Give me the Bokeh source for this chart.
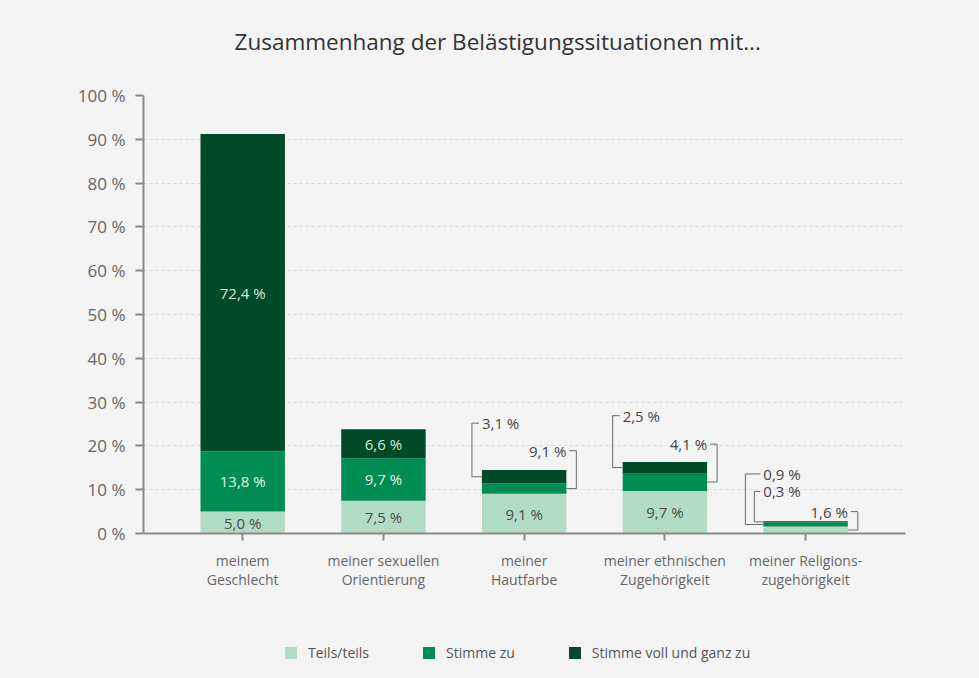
from bokeh.plotting import figure
from bokeh.layouts import column
from bokeh.models import (Legend, LegendItem, FixedTicker, Range1d,
                          ColumnDataSource, Title)
from bokeh.core.properties import value
from bokeh.embed import file_html
from bokeh.resources import INLINE

# ---------------- data ----------------
categories = ["meinem\nGeschlecht", "meiner sexuellen\nOrientierung",
              "meiner\nHautfarbe", "meiner ethnischen\nZugehörigkeit",
              "meiner Religions-\nzugehörigkeit"]
series_names = ["Teils/teils", "Stimme zu", "Stimme voll und ganz zu"]
teils = [5.0, 7.5, 9.1, 9.7, 1.6]
zu = [13.8, 9.7, 2.3, 4.1, 0.9]
voll = [72.4, 6.6, 3.1, 2.5, 0.3]
teils_lbl = ["5,0 %", "7,5 %", "9,1 %", "9,7 %", "1,6 %"]
zu_lbl = ["13,8 %", "9,7 %", "9,1 %", "4,1 %", "0,9 %"]
voll_lbl = ["72,4 %", "6,6 %", "3,1 %", "2,5 %", "0,3 %"]
y_ticks = [0, 10, 20, 30, 40, 50, 60, 70, 80, 90, 100]
title_text = "Zusammenhang der Belästigungssituationen mit..."

# ---------------- style ----------------
FONT = "Open Sans"
BG = "#f4f4f4"
COLORS = ["#b3dcc7", "#008c55", "#004a2a"]
GRAY = "#666666"
AX = "#8a8a8a"
BAR_W = 0.6
PX = 1 / 140.7      # data units per pixel (x)
W = 979
H_MAIN = 620
H_LEG = 58

xs = list(range(len(categories)))
src = ColumnDataSource(dict(x=xs, teils=teils, zu=zu, voll=voll))

p = figure(width=W, height=H_MAIN, x_range=Range1d(-0.705, 4.71),
           y_range=Range1d(0, 100), output_backend="svg",
           toolbar_location=None, background_fill_color=BG,
           border_fill_color=BG, outline_line_color=None,
           min_border_left=143, min_border_right=74,
           min_border_top=95, min_border_bottom=H_MAIN - 533)

rs = p.vbar_stack(["teils", "zu", "voll"], x="x", width=BAR_W,
                  color=COLORS, line_color=None, source=src)

# axes
p.yaxis.ticker = FixedTicker(ticks=y_ticks)
p.yaxis.major_label_overrides = {t: f"{t} %" for t in y_ticks}
p.xaxis.ticker = FixedTicker(ticks=xs)
p.xaxis.major_label_overrides = {i: c for i, c in enumerate(categories)}
for ax in (p.xaxis[0], p.yaxis[0]):
    ax.axis_line_color = AX
    ax.axis_line_width = 2
    ax.major_tick_line_color = AX
    ax.major_tick_line_width = 2
    ax.major_tick_in = 0
    ax.minor_tick_line_color = None
    ax.major_label_text_font = FONT
    ax.major_label_text_color = GRAY
p.yaxis.major_tick_out = 8
p.yaxis.major_label_standoff = 10
p.yaxis.major_label_text_font_size = "17px"
p.xaxis.major_tick_out = 7
p.xaxis.major_label_standoff = 10
p.xaxis.major_label_text_font_size = "14px"
p.xaxis.major_label_text_line_height = 1.05

p.xgrid.grid_line_color = None
p.ygrid.grid_line_color = "#dadada"
p.ygrid.grid_line_dash = "3 3"
p.ygrid.grid_line_width = 1

# labels inside bars
in_x, in_y, in_t, in_c = [], [], [], []
for i in xs:
    b1, b2 = teils[i], teils[i] + zu[i]
    top = b2 + voll[i]
    if i in (0, 1, 2, 3):
        in_x.append(i); in_y.append(b1 / 2); in_t.append(teils_lbl[i]); in_c.append("#4a4a4a")
    if i in (0, 1):
        in_x.append(i); in_y.append((b1 + b2) / 2); in_t.append(zu_lbl[i]); in_c.append("#e3f3e9")
        in_x.append(i); in_y.append((b2 + top) / 2); in_t.append(voll_lbl[i]); in_c.append("#cfe9da")
p.text(x=in_x, y=in_y, text=in_t, text_color=in_c, text_font=value(FONT),
       text_font_size="15px", text_align="center", text_baseline="middle")

# callouts: (cat, series, side, label offset above top in %, bracket distance px)
callouts = [
    (2, "voll", "left", 10.7, 10),
    (2, "zu", "right", 4.4, 10),
    (3, "voll", "left", 10.6, 10),
    (3, "zu", "right", 4.1, 10),
    (4, "zu", "left", 10.8, 18),
    (4, "voll", "left", 6.8, 9),
    (4, "teils", "right", 2.2, 10),
]
lx, ly, lt, la = [], [], [], []
bx_l, by_l = [], []
for cat, ser, side, off, d in callouts:
    b1 = teils[cat]
    b2 = b1 + zu[cat]
    top = b2 + voll[cat]
    anchor = {"teils": b1 / 2, "zu": (b1 + b2) / 2, "voll": (b2 + top) / 2}[ser]
    txt = {"teils": teils_lbl, "zu": zu_lbl, "voll": voll_lbl}[ser][cat]
    yl = top + off
    if side == "left":
        edge = cat - BAR_W / 2
        bx = edge - d * PX
        bx_l.append([edge - 3 * PX, bx, bx, edge])
        lx.append(edge); la.append("left")
    else:
        edge = cat + BAR_W / 2
        bx = edge + d * PX
        bx_l.append([edge + 3 * PX, bx, bx, edge])
        lx.append(edge); la.append("right")
    by_l.append([yl, yl, anchor, anchor])
    ly.append(yl); lt.append(txt)
p.multi_line(xs=bx_l, ys=by_l, line_color="#6a6a6a", line_width=1)
p.text(x=lx, y=ly, text=lt, text_align=la, text_baseline="middle",
       text_color="#444444", text_font=value(FONT), text_font_size="15px")

# title (spacer panel next to the frame, real title outside it)
p.add_layout(Title(text=" ", text_font=FONT, text_font_size="22px",
                   standoff=6), "above")
p.title.text = title_text
p.title.align = "left"
p.title.offset = 91
p.title.standoff = 0
p.title.vertical_align = "middle"
p.title.text_font = FONT
p.title.text_font_size = "22.5px"
p.title.text_font_style = "normal"
p.title.text_color = "#333333"

# legend strip (separate small figure below the chart)
q = figure(width=W, height=H_LEG, x_range=Range1d(0, 1),
           y_range=Range1d(0, 1), output_backend="svg",
           toolbar_location=None, background_fill_color=None,
           border_fill_color=BG, outline_line_color=None,
           x_axis_type=None, y_axis_type=None, min_border=0)
q.xgrid.grid_line_color = None
q.ygrid.grid_line_color = None
# zero-height placeholders: only their legend swatches are seen
leg_rs = [q.vbar(x=[0], top=[0], width=0, fill_color=c, line_color=None)
          for c in COLORS]
legend = Legend(items=[LegendItem(label=n, renderers=[r])
                       for n, r in zip(series_names, leg_rs)],
                orientation="horizontal", location=(140, 16),
                glyph_width=15, glyph_height=15, label_height=15,
                label_standoff=10, spacing=52, padding=0, margin=0,
                border_line_color=None, background_fill_alpha=0,
                label_text_font=FONT, label_text_font_size="14px",
                label_text_color="#555555")
q.add_layout(legend, "center")

layout = column(p, q, spacing=0, styles={"background-color": BG})
open("out.html", "w").write(file_html(layout, INLINE))
